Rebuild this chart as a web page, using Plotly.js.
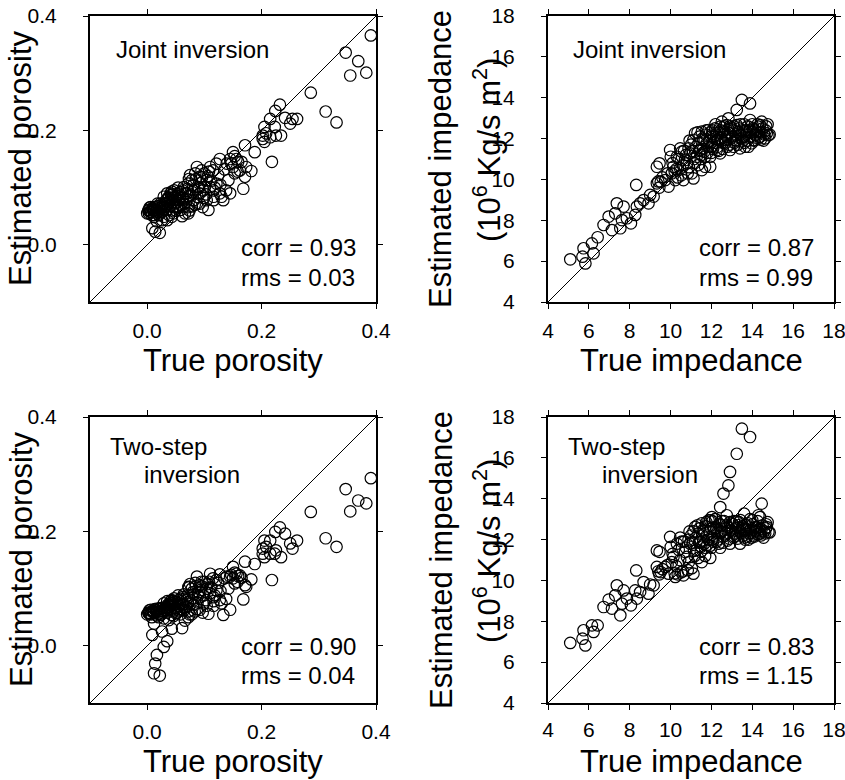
<!DOCTYPE html>
<html>
<head>
<meta charset="utf-8">
<script src="https://cdn.plot.ly/plotly-3.0.1.min.js"></script>
<style>html,body{margin:0;padding:0;background:#fff;}#chart{width:845px;height:780px;}</style>
</head>
<body>
<div id="chart"></div>
<script>
// ---------------- DATA ----------------
const truePorosity = [
 0.391,0.347,0.369,0.355,0.383,0.286,0.312,0.331,0.232,0.224,
 0.262,0.254,0.241,0.250,0.234,0.223,0.205,0.208,0.202,0.205,
 0.218,0.188,0.171,0.182,0.168,0.171,0.150,0.156,0.145,0.139,
 0.127,0.121,0.142,0.162,0.153,0.130,0.145,0.133,0.107,0.116,
 0.121,0.110,0.095,0.092,0.104,0.087,0.078,0.072,0.075,0.069,
 0.061,0.072,0.072,0.081,0.092,0.098,0.087,0.058,0.046,0.040,
 0.035,0.029,0.023,0.035,0.046,0.023,0.012,0.003,0.006,0.000,
 0.012,0.009,0.014,0.022,0.017,0.026,0.035,0.043,0.052,0.055,
 0.064,0.066,0.081,0.090,0.101,0.110,0.116,0.127,0.150,0.173,
 0.159,0.225,0.202,0.215,0.215,0.003,0.009,0.017,0.020,0.029,
 0.035,0.042,0.043,0.049,0.055,0.046,0.038,0.029,0.017,0.012,
 0.066,0.078,0.092,0.104,0.116,0.064,0.061,
 0.005,0.010,0.015,0.020,0.025,0.030,0.033,0.038,0.040,0.045,
 0.048,0.050,0.053,0.058,0.060,0.063,0.068,0.070,0.074,0.076,
 0.080,0.083,0.085,0.088,0.094,0.097,0.100,0.103,0.106,0.112,
 0.115,0.118,0.124,0.128,0.135,0.138,0.147,0.153,0.158,0.165,
 0.026,0.018,0.008,0.043,0.056,
 0.002,0.004,0.007,0.011,0.013,0.016,0.019,0.021,0.024,0.027,
 0.031,0.034,0.036,0.039,0.041,0.044,0.047,0.051,0.054,0.057,
 0.062,0.065,0.071,0.073,0.079,0.084,0.089,0.096,0.099,0.108];
const estPorosityJoint = [
 0.366,0.336,0.321,0.296,0.301,0.266,0.233,0.214,0.245,0.234,
 0.220,0.220,0.222,0.212,0.191,0.206,0.206,0.195,0.185,0.180,
 0.145,0.162,0.174,0.129,0.098,0.119,0.162,0.150,0.150,0.142,
 0.150,0.142,0.113,0.130,0.125,0.084,0.090,0.078,0.061,0.078,
 0.107,0.136,0.130,0.119,0.113,0.136,0.113,0.107,0.122,0.090,
 0.078,0.055,0.066,0.078,0.090,0.095,0.072,0.061,0.066,0.078,
 0.090,0.084,0.072,0.061,0.055,0.055,0.061,0.061,0.066,0.055,
 0.049,0.029,0.023,0.021,0.041,0.043,0.043,0.049,0.066,0.078,
 0.066,0.090,0.095,0.101,0.101,0.101,0.095,0.090,0.136,0.136,
 0.145,0.191,0.191,0.188,0.220,0.055,0.064,0.055,0.064,0.061,
 0.072,0.087,0.093,0.084,0.090,0.078,0.052,0.049,0.067,0.052,
 0.055,0.067,0.072,0.078,0.084,0.101,0.050,
 0.058,0.063,0.058,0.052,0.058,0.066,0.078,0.083,0.068,0.088,
 0.072,0.060,0.085,0.092,0.070,0.082,0.075,0.098,0.060,0.086,
 0.104,0.070,0.115,0.084,0.108,0.066,0.125,0.088,0.120,0.112,
 0.130,0.100,0.122,0.105,0.132,0.095,0.142,0.155,0.128,0.145,
 0.066,0.072,0.052,0.060,0.066,
 0.060,0.065,0.057,0.060,0.066,0.061,0.058,0.068,0.062,0.070,
 0.073,0.068,0.082,0.075,0.090,0.082,0.095,0.074,0.100,0.082,
 0.095,0.072,0.085,0.115,0.092,0.125,0.098,0.118,0.082,0.128];
const estPorosityTwoStep = [
 0.293,0.274,0.254,0.235,0.249,0.234,0.188,0.173,0.207,0.199,
 0.184,0.170,0.196,0.179,0.155,0.161,0.184,0.173,0.161,0.155,
 0.115,0.143,0.147,0.116,0.081,0.106,0.138,0.126,0.121,0.121,
 0.125,0.115,0.100,0.123,0.109,0.074,0.063,0.054,0.056,0.070,
 0.097,0.126,0.112,0.106,0.100,0.121,0.100,0.103,0.108,0.080,
 0.072,0.050,0.060,0.072,0.085,0.088,0.064,0.055,0.062,0.072,
 0.078,0.074,0.066,0.058,0.052,0.054,0.060,0.057,0.063,0.055,
 0.039,0.019,-0.031,-0.052,-0.016,0.025,0.008,0.030,0.058,0.070,
 0.062,0.082,0.090,0.094,0.095,0.092,0.085,0.080,0.118,0.103,
 0.122,0.167,0.170,0.161,0.184,0.057,0.061,0.053,0.060,0.048,
 0.066,0.075,0.080,0.077,0.080,0.071,0.045,-0.002,0.062,-0.048,
 0.044,0.055,0.063,0.070,0.078,0.090,0.031,
 0.056,0.060,0.062,0.050,0.055,0.063,0.068,0.072,0.062,0.078,
 0.066,0.057,0.074,0.082,0.064,0.073,0.068,0.088,0.055,0.079,
 0.094,0.060,0.104,0.076,0.098,0.058,0.112,0.080,0.108,0.102,
 0.118,0.088,0.110,0.096,0.118,0.082,0.124,0.128,0.112,0.119,
 0.061,0.065,0.050,0.054,0.062,
 0.058,0.062,0.055,0.058,0.064,0.059,0.056,0.064,0.058,0.066,
 0.066,0.062,0.072,0.068,0.078,0.074,0.083,0.066,0.088,0.074,
 0.085,0.066,0.076,0.102,0.084,0.110,0.088,0.104,0.074,0.112];

const trueImpedance = [
 5.09,5.69,5.74,5.83,6.23,6.15,6.43,6.72,6.97,7.13,
 7.29,7.37,7.54,7.62,7.70,7.86,8.06,8.27,8.32,8.35,
 8.51,8.68,8.92,9.00,9.17,9.33,9.46,9.33,9.52,9.74,
 9.90,9.98,10.01,10.06,10.14,10.23,10.31,10.47,10.55,10.63,
 10.80,10.88,11.04,11.12,11.20,11.28,11.45,11.53,11.69,11.77,
 11.86,11.94,12.10,12.26,12.43,12.51,12.67,12.83,12.91,13.08,
 13.24,13.32,13.49,13.57,13.65,13.89,13.89,13.97,14.14,14.30,
 14.38,14.46,14.71,14.79,11.61,12.02,12.34,12.59,12.75,13.00,
 13.16,13.40,13.73,14.06,14.22,14.63,13.81,13.40,12.91,12.43,
 11.94,11.69,11.37,10.96,10.71,10.47,11.12,11.53,12.18,12.51,
 12.75,13.24,13.89,14.38,12.02,11.94,13.60,
 10.20,10.35,10.60,10.75,10.90,11.00,11.15,11.25,11.35,11.42,
 11.50,11.60,11.72,11.80,11.90,12.00,12.05,12.15,12.22,12.30,
 12.38,12.47,12.55,12.62,12.70,12.80,12.87,12.95,13.05,13.12,
 13.20,13.28,13.35,13.45,13.52,13.62,13.70,13.78,13.85,13.95,
 14.02,14.10,14.18,14.26,14.35,14.42,14.50,14.58,14.68,14.85,
 9.40,9.60,9.85,9.45,
 10.10,10.28,10.40,10.52,10.66,10.84,10.93,11.08,11.18,11.32,
 11.40,11.48,11.57,11.65,11.75,11.84,11.98,12.08,12.20,12.28,
 12.36,12.45,12.58,12.65,12.78,12.90,13.02,13.10,13.22,13.30,
 13.42,13.55,13.66,13.75,13.92,14.00,14.12,14.28,14.45,14.55,
 14.66,14.75];
const estImpedanceJoint = [
 6.09,6.22,6.63,5.89,6.38,6.87,7.17,7.77,8.18,7.52,
 8.34,8.83,7.61,8.01,8.67,8.10,7.85,8.26,9.73,8.67,
 8.83,8.99,8.83,9.24,9.16,10.62,10.79,9.81,9.89,9.97,
 9.65,11.44,11.11,10.30,10.62,9.97,11.11,10.54,11.36,9.97,
 10.79,11.52,10.30,10.05,12.26,11.11,11.44,10.46,10.62,11.77,
 12.42,11.11,12.09,11.44,12.58,11.93,11.77,12.99,12.26,11.60,
 13.40,12.34,13.89,12.09,11.60,13.72,12.42,11.77,12.17,12.58,
 12.09,12.83,12.26,12.17,11.93,11.60,11.93,12.34,12.09,12.50,
 11.93,12.17,12.34,11.93,12.34,12.01,11.60,11.52,11.44,11.28,
 10.62,11.11,11.77,11.28,10.95,11.52,11.93,12.34,12.50,12.83,
 12.66,12.66,12.91,12.66,12.20,12.30,12.70,
 10.40,10.10,10.70,11.20,10.60,11.70,11.00,11.60,10.70,12.10,
 11.20,11.50,12.20,11.30,11.90,11.30,12.40,11.80,12.20,11.60,
 12.30,12.00,11.50,12.60,11.95,12.30,11.70,12.00,12.40,11.80,
 12.20,11.70,12.50,12.00,12.40,11.80,12.20,12.60,12.05,12.30,
 12.50,11.90,12.20,12.70,12.30,11.95,12.50,12.20,12.60,12.20,
 9.90,10.10,10.30,9.60,
 10.80,10.50,11.00,10.20,11.40,10.30,11.90,11.40,10.80,12.30,
 11.40,11.00,12.00,11.35,12.40,11.60,12.10,11.50,12.70,11.95,
 11.40,12.40,11.80,12.20,11.60,12.60,12.10,12.60,11.90,12.30,
 12.70,11.90,12.40,11.90,12.10,12.70,12.40,12.00,12.30,11.90,
 12.40,12.70];
const estImpedanceTwoStep = [
 6.94,7.15,7.56,6.82,7.48,7.80,7.80,8.70,9.06,8.62,
 9.27,9.76,8.29,8.86,9.51,9.11,8.78,9.51,10.49,9.11,
 9.43,9.92,9.35,9.80,9.76,11.47,11.40,10.66,10.41,10.66,
 10.33,12.13,11.64,10.90,11.15,10.17,11.80,11.00,11.90,10.25,
 11.15,12.00,10.60,10.33,12.62,11.50,11.90,10.90,11.20,12.20,
 12.94,11.70,12.60,11.90,13.59,12.40,12.20,14.65,15.31,12.10,
 16.20,12.70,17.43,12.50,12.00,17.02,12.45,12.10,12.40,13.19,
 12.30,13.76,12.61,12.37,12.40,12.00,12.30,14.25,13.19,12.80,
 12.30,12.40,12.70,12.20,12.60,12.30,12.00,11.80,11.80,11.60,
 11.10,11.60,12.30,11.80,11.40,12.10,12.40,12.80,13.00,12.90,
 12.70,12.90,13.00,13.10,13.10,12.94,13.27,
 10.35,10.30,10.45,11.60,10.90,12.20,11.45,12.10,11.10,12.55,
 11.65,11.95,12.65,11.75,12.40,11.60,12.90,12.20,12.60,12.00,
 12.75,12.35,11.85,12.90,12.30,12.60,12.05,12.45,12.75,12.15,
 12.55,12.05,12.85,12.30,12.65,12.10,12.45,12.80,12.30,12.55,
 12.75,12.15,12.45,12.90,12.50,12.20,12.70,12.40,12.75,12.35,
 10.45,10.55,10.75,10.30,
 11.30,10.70,11.50,10.40,11.90,10.50,12.40,11.85,11.20,12.70,
 11.85,11.40,12.45,11.80,12.85,12.00,12.55,11.90,13.00,12.35,
 11.80,12.70,12.15,12.55,11.95,12.85,12.40,12.90,12.20,12.60,
 12.95,12.20,12.70,12.15,12.35,12.95,12.60,12.25,12.50,12.10,
 12.55,12.85];

const porosityRange = [-0.1, 0.4];
const porosityTicks = [0.0, 0.2, 0.4];
const impedanceRange = [4, 18];
const impedanceTicks = [4, 6, 8, 10, 12, 14, 16, 18];

const methodLabels = ["Joint inversion", "Joint inversion", "Two-step<br>inversion", "Two-step<br>inversion"];
const corrLabels = ["corr = 0.93", "corr = 0.87", "corr = 0.90", "corr = 0.83"];
const rmsLabels = ["rms = 0.03", "rms = 0.99", "rms = 0.04", "rms = 1.15"];
const xTitles = ["True porosity", "True impedance", "True porosity", "True impedance"];
const yTitleLine1 = ["Estimated porosity", "Estimated impedance", "Estimated porosity", "Estimated impedance"];
const yTitleLine2 = ["", "(10<sup>6</sup> Kg/s m<sup>2</sup>)", "", "(10<sup>6</sup> Kg/s m<sup>2</sup>)"];

// ---------------- LAYOUT ----------------
const W = 845, H = 780;
const fx = p => p / W;
const fy = p => 1 - p / H;
const FONT = 'Liberation Sans, Arial, Helvetica, sans-serif';

// pixel boxes of the four panels
const boxes = [
  {l: 90, r: 376, t: 16, b: 302, xs: 4, ys: 22},
  {l: 548, r: 834, t: 16, b: 302, xs: 4, ys: 22},
  {l: 90, r: 376, t: 417, b: 703, xs: 4, ys: 22},
  {l: 548, r: 834, t: 417, b: 703, xs: 2, ys: 22}
];
const xs = [truePorosity, trueImpedance, truePorosity, trueImpedance];
const ys = [estPorosityJoint, estImpedanceJoint, estPorosityTwoStep, estImpedanceTwoStep];
const ranges = [porosityRange, impedanceRange, porosityRange, impedanceRange];
const ticks = [porosityTicks, impedanceTicks, porosityTicks, impedanceTicks];
const fmts = ['.1f', 'd', '.1f', 'd'];

const traces = [];
const layout = {
  width: W, height: H,
  margin: {l: 0, r: 0, t: 0, b: 0},
  paper_bgcolor: '#fff', plot_bgcolor: '#fff',
  showlegend: false,
  font: {family: FONT, color: '#000'},
  annotations: []
};

function axisBase(range, tv, fmt, domain, anchor, standoff) {
  return {
    domain: domain, range: range, anchor: anchor,
    tickvals: tv, tickformat: fmt,
    showgrid: false, zeroline: false,
    showline: true, linewidth: 2, linecolor: '#000',
    mirror: 'ticks', ticks: 'outside', ticklen: 5, tickwidth: 1, tickcolor: '#000',
    tickfont: {family: FONT, size: 21, color: '#000'},
    ticklabelstandoff: standoff, ticklabeloverflow: 'allow',
    automargin: false, fixedrange: true
  };
}

for (let i = 0; i < 4; i++) {
  const n = i === 0 ? '' : String(i + 1);
  const bx = boxes[i];
  const xa = 'x' + n, ya = 'y' + n;
  layout['xaxis' + n] = axisBase(ranges[i], ticks[i], fmts[i], [fx(bx.l), fx(bx.r)], ya, bx.xs);
  layout['yaxis' + n] = axisBase(ranges[i], ticks[i], fmts[i], [fy(bx.b), fy(bx.t)], xa, bx.ys);

  traces.push({
    x: ranges[i], y: ranges[i], xaxis: xa, yaxis: ya,
    mode: 'lines', line: {color: '#000', width: 1}, hoverinfo: 'skip'
  });
  traces.push({
    x: xs[i], y: ys[i], xaxis: xa, yaxis: ya,
    mode: 'markers', type: 'scatter',
    marker: {symbol: 'circle-open', size: 11.5, color: '#000', line: {width: 1.2, color: '#000'}}
  });

  const cx = (bx.l + bx.r) / 2, cy = (bx.t + bx.b) / 2;
  const ann = layout.annotations;
  const two = i >= 2;
  // method label
  if (!two) {
    ann.push({xref: 'paper', yref: 'paper', x: fx(bx.l + (i === 0 ? 24 : 23)), y: fy(bx.t + 34),
      xanchor: 'left', yanchor: 'middle', showarrow: false, text: methodLabels[i],
      font: {family: FONT, size: 24, color: '#000'}});
  } else {
    const parts = methodLabels[i].split('<br>');
    ann.push({xref: 'paper', yref: 'paper', x: fx(bx.l + 18), y: fy(bx.t + 30),
      xanchor: 'left', yanchor: 'middle', showarrow: false, text: parts[0],
      font: {family: FONT, size: 24, color: '#000'}});
    ann.push({xref: 'paper', yref: 'paper', x: fx(bx.l + 52), y: fy(bx.t + 58),
      xanchor: 'left', yanchor: 'middle', showarrow: false, text: parts[1],
      font: {family: FONT, size: 24, color: '#000'}});
  }
  // stats
  const sOff = two ? 229 : 232;
  ann.push({xref: 'paper', yref: 'paper', x: fx(bx.l + 149), y: fy(bx.t + sOff),
    xanchor: 'left', yanchor: 'middle', showarrow: false, text: corrLabels[i],
    font: {family: FONT, size: 24, color: '#000'}});
  ann.push({xref: 'paper', yref: 'paper', x: fx(bx.l + 149), y: fy(bx.t + sOff + 29),
    xanchor: 'left', yanchor: 'middle', showarrow: false, text: rmsLabels[i],
    font: {family: FONT, size: 24, color: '#000'}});
  // x title
  ann.push({xref: 'paper', yref: 'paper', x: fx(cx), y: fy(bx.b + 58),
    xanchor: 'center', yanchor: 'middle', showarrow: false, text: xTitles[i],
    font: {family: FONT, size: 31, color: '#000'}});
  // y title
  if (yTitleLine2[i] === '') {
    ann.push({xref: 'paper', yref: 'paper', x: fx(bx.l - 69), y: fy(cy),
      xanchor: 'center', yanchor: 'middle', showarrow: false, textangle: -90, text: yTitleLine1[i],
      font: {family: FONT, size: 31, color: '#000'}});
  } else {
    ann.push({xref: 'paper', yref: 'paper', x: fx(bx.l - 107), y: fy(cy),
      xanchor: 'center', yanchor: 'middle', showarrow: false, textangle: -90, text: yTitleLine1[i],
      font: {family: FONT, size: 31, color: '#000'}});
    ann.push({xref: 'paper', yref: 'paper', x: fx(bx.l - 61), y: fy(cy - 9),
      xanchor: 'center', yanchor: 'middle', showarrow: false, textangle: -90, text: yTitleLine2[i],
      font: {family: FONT, size: 31, color: '#000'}});
  }
}

Plotly.newPlot('chart', traces, layout, {staticPlot: true, displayModeBar: false});
</script>
</body>
</html>
